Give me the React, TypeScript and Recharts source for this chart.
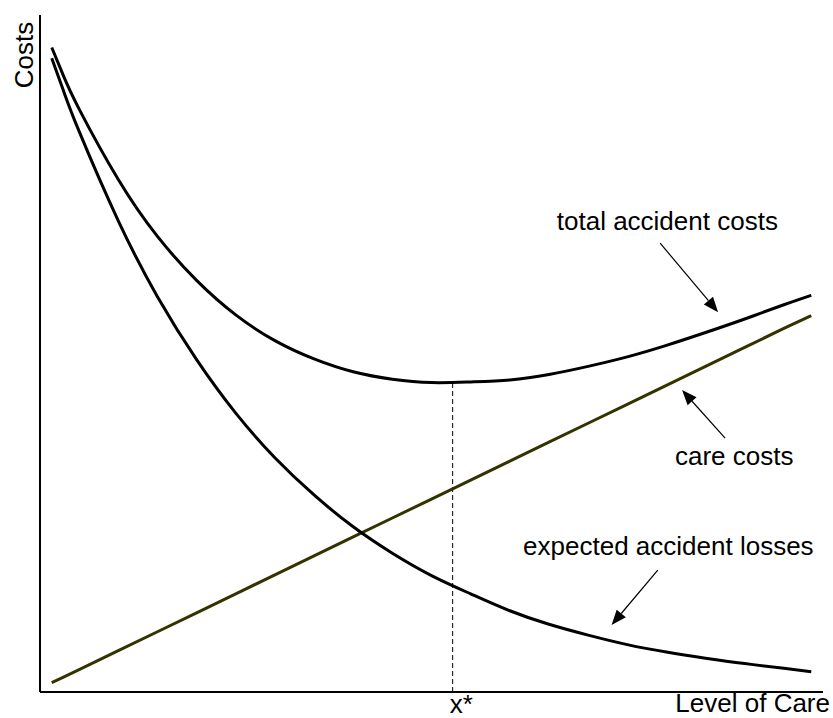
import React from 'react';
import { ComposedChart, Line, XAxis, YAxis, ReferenceLine, ReferenceDot } from 'recharts';

// level of care (x) and the three cost curves
const LEVEL = [0.15, 0.3, 0.5, 1, 1.5, 2, 2.5, 3, 3.5, 4, 4.5, 5, 5.5, 6, 6.5, 7, 7.5, 8, 8.5, 9, 9.5, 9.85];
const CARE_COSTS = [0.14, 0.22, 0.33, 0.61, 0.89, 1.17, 1.45, 1.73, 2.01, 2.29, 2.57, 2.85, 3.13, 3.41, 3.69, 3.97, 4.25, 4.53, 4.81, 5.09, 5.37, 5.56];
const ACCIDENT_LOSSES = [9.36, 8.88, 8.28, 6.96, 5.84, 4.91, 4.12, 3.46, 2.91, 2.44, 2.05, 1.72, 1.45, 1.2, 1.0, 0.84, 0.7, 0.59, 0.5, 0.42, 0.35, 0.3];
const TOTAL_COSTS = [9.52, 9.1, 8.61, 7.57, 6.73, 6.08, 5.57, 5.19, 4.92, 4.73, 4.62, 4.57, 4.58, 4.61, 4.69, 4.81, 4.95, 5.12, 5.31, 5.51, 5.72, 5.86];

const X_STAR = 5.27;
const TOTAL_MIN = 4.56;

const LABELS = [
  { text: 'total accident costs', x: 6.6, y: 6.82 },
  { text: 'care costs', x: 8.11, y: 3.35 },
  { text: 'expected accident losses', x: 6.17, y: 2.02 },
];

const ARROWS = [
  { from: { x: 7.92, y: 6.63 }, to: { x: 8.66, y: 5.61 } },
  { from: { x: 8.75, y: 3.75 }, to: { x: 8.2, y: 4.46 } },
  { from: { x: 7.89, y: 1.8 }, to: { x: 7.3, y: 0.99 } },
];

const FONT = '"Liberation Sans", Arial, sans-serif';
const OLIVE = '#333300';

const data = LEVEL.map((x, i) => ({
  x,
  care: CARE_COSTS[i],
  losses: ACCIDENT_LOSSES[i],
  total: TOTAL_COSTS[i],
}));

const ArrowShape = (props: any) => {
  const { x1, y1, x2, y2 } = props;
  const ang = Math.atan2(y2 - y1, x2 - x1);
  const len = 15;
  const half = 6;
  const bx = x2 - len * Math.cos(ang);
  const by = y2 - len * Math.sin(ang);
  const lx = bx + half * Math.sin(ang);
  const ly = by - half * Math.cos(ang);
  const rx = bx - half * Math.sin(ang);
  const ry = by + half * Math.cos(ang);
  return (
    <g>
      <line x1={x1} y1={y1} x2={bx} y2={by} stroke="#000" strokeWidth={1.2} />
      <polygon points={`${x2},${y2} ${lx},${ly} ${rx},${ry}`} fill="#000" />
    </g>
  );
};

const StarTick = (props: any) => (
  <text x={props.x - 3} y={props.y + 21} fontSize={26} fontFamily={FONT} fill="#000">
    x*
  </text>
);

export default function App() {
  return (
    <div style={{ position: 'absolute', left: 0, top: 0, width: 833, height: 718, background: '#fff' }}>
      <ComposedChart width={833} height={718} data={data} margin={{ top: 15, right: 10, bottom: 0, left: 0 }}>
        <XAxis
          dataKey="x"
          type="number"
          domain={[0, 10]}
          ticks={[X_STAR]}
          tick={<StarTick />}
          tickLine={false}
          tickSize={0}
          tickMargin={0}
          height={26}
          axisLine={{ stroke: '#000', strokeWidth: 2 }}
          label={{
            content: (p: any) => (
              <text
                x={p.viewBox.x + p.viewBox.width + 7}
                y={p.viewBox.y + 20}
                textAnchor="end"
                fontSize={26}
                fontFamily={FONT}
                fill="#000"
              >
                Level of Care
              </text>
            ),
          }}
        />
        <YAxis
          type="number"
          domain={[0, 10]}
          ticks={[]}
          tick={false}
          tickLine={false}
          width={40}
          axisLine={{ stroke: '#000', strokeWidth: 2 }}
          label={{
            content: (p: any) => {
              const cx = p.viewBox.x + 33;
              const cy = p.viewBox.y + 40;
              return (
                <text
                  x={cx}
                  y={cy}
                  transform={`rotate(-90, ${cx}, ${cy})`}
                  textAnchor="middle"
                  fontSize={26}
                  fontFamily={FONT}
                  fill="#000"
                >
                  Costs
                </text>
              );
            },
          }}
        />
        <ReferenceLine
          segment={[{ x: X_STAR, y: 0 }, { x: X_STAR, y: TOTAL_MIN }]}
          stroke="#000"
          strokeWidth={1}
          strokeDasharray="5 3"
        />
        <Line type="linear" dataKey="care" stroke={OLIVE} strokeWidth={3} dot={false} isAnimationActive={false} />
        <Line type="natural" dataKey="losses" stroke="#000" strokeWidth={3} dot={false} isAnimationActive={false} />
        <Line type="natural" dataKey="total" stroke="#000" strokeWidth={3} dot={false} isAnimationActive={false} />
        {ARROWS.map((a, i) => (
          <ReferenceLine key={`arrow-${i}`} segment={[a.from, a.to]} shape={ArrowShape} />
        ))}
        {LABELS.map((l) => (
          <ReferenceDot
            key={l.text}
            x={l.x}
            y={l.y}
            r={0}
            shape={(p: any) => (
              <text x={p.cx} y={p.cy} fontSize={26} fontFamily={FONT} fill="#000">
                {l.text}
              </text>
            )}
          />
        ))}
      </ComposedChart>
    </div>
  );
}
